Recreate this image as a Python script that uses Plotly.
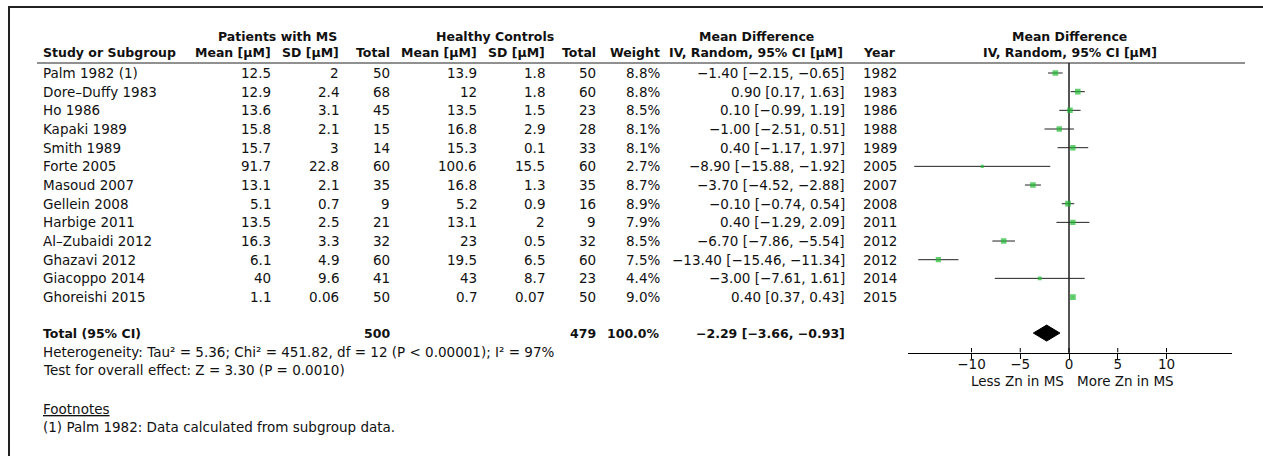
import plotly.graph_objects as go

# ---- study data ----
studies = ["Palm 1982 (1)", "Dore–Duffy 1983", "Ho 1986", "Kapaki 1989", "Smith 1989",
           "Forte 2005", "Masoud 2007", "Gellein 2008", "Harbige 2011", "Al–Zubaidi 2012",
           "Ghazavi 2012", "Giacoppo 2014", "Ghoreishi 2015"]
ms_mean = [12.5, 12.9, 13.6, 15.8, 15.7, 91.7, 13.1, 5.1, 13.5, 16.3, 6.1, 40, 1.1]
ms_sd = [2, 2.4, 3.1, 2.1, 3, 22.8, 2.1, 0.7, 2.5, 3.3, 4.9, 9.6, 0.06]
ms_n = [50, 68, 45, 15, 14, 60, 35, 9, 21, 32, 60, 41, 50]
hc_mean = [13.9, 12, 13.5, 16.8, 15.3, 100.6, 16.8, 5.2, 13.1, 23, 19.5, 43, 0.7]
hc_sd = [1.8, 1.8, 1.5, 2.9, 0.1, 15.5, 1.3, 0.9, 2, 0.5, 6.5, 8.7, 0.07]
hc_n = [50, 60, 23, 28, 33, 60, 35, 16, 9, 32, 60, 23, 50]
weight = [8.8, 8.8, 8.5, 8.1, 8.1, 2.7, 8.7, 8.9, 7.9, 8.5, 7.5, 4.4, 9.0]
md = [-1.40, 0.90, 0.10, -1.00, 0.40, -8.90, -3.70, -0.10, 0.40, -6.70, -13.40, -3.00, 0.40]
ci_lo = [-2.15, 0.17, -0.99, -2.51, -1.17, -15.88, -4.52, -0.74, -1.29, -7.86, -15.46, -7.61, 0.37]
ci_hi = [-0.65, 1.63, 1.19, 0.51, 1.97, -1.92, -2.88, 0.54, 2.09, -5.54, -11.34, 1.61, 0.43]
years = [1982, 1983, 1986, 1988, 1989, 2005, 2007, 2008, 2011, 2012, 2012, 2014, 2015]

# pooled result
total_ms_n = 500
total_hc_n = 479
total_weight = 100.0
total_md = -2.29
total_lo = -3.66
total_hi = -0.93

axis_ticks = [-10, -5, 0, 5, 10]
heterogeneity = "Heterogeneity: Tau² = 5.36; Chi² = 451.82, df = 12 (P < 0.00001); I² = 97%"
overall_test = "Test for overall effect: Z = 3.30 (P = 0.0010)"
footnote = "(1) Palm 1982: Data calculated from subgroup data."
label_left = "Less Zn in MS"
label_right = "More Zn in MS"

# ---- layout geometry ----
W, H = 1263, 456
FONT = "DejaVu Sans"
FS = 13.5
FS_B = 12.5
INK = "#111111"
GREEN = "#22bb33"

ROW0_PX, ROW_H = 73.0, 18.67
PLOT_TOP_PX, PLOT_BOT_PX = 63.0, 352.5
TOTAL_ROW = 13.93


def fx(p):
    return p / W


def fy(p):
    return 1 - p / H


def num(v):
    return f"{v:g}".replace("-", "−")


def fmt2(v):
    return f"{v:.2f}".replace("-", "−")


y_rows = list(range(len(studies)))
fig = go.Figure()

# confidence intervals
ci_x, ci_y = [], []
for lo, hi, r in zip(ci_lo, ci_hi, y_rows):
    ci_x += [lo, hi, None]
    ci_y += [r, r, None]
fig.add_trace(go.Scatter(x=ci_x, y=ci_y, mode="lines",
                         line=dict(color="#222222", width=1), hoverinfo="skip"))

# study point estimates, square area scaled by weight
fig.add_trace(go.Scatter(x=md, y=y_rows, mode="markers",
                         marker=dict(symbol="square", color=GREEN,
                                     size=[1.9 * w ** 0.5 for w in weight],
                                     line=dict(width=0)),
                         hoverinfo="skip"))

# pooled diamond
half_h = 8 / ROW_H
fig.add_trace(go.Scatter(x=[total_lo, total_md, total_hi, total_md, total_lo],
                         y=[TOTAL_ROW, TOTAL_ROW - half_h, TOTAL_ROW, TOTAL_ROW + half_h, TOTAL_ROW],
                         mode="lines", fill="toself", fillcolor="black",
                         line=dict(color="black", width=1), hoverinfo="skip"))

# upper halves of the axis tick marks
tk_x, tk_y = [], []
up = 4.5 / ROW_H
y_axis_row = (PLOT_BOT_PX - ROW0_PX) / ROW_H
for t in axis_ticks:
    tk_x += [t, t, None]
    tk_y += [y_axis_row, y_axis_row - up, None]
fig.add_trace(go.Scatter(x=tk_x, y=tk_y, mode="lines",
                         line=dict(color="black", width=1), hoverinfo="skip"))

ann = []


def text(x_px, y, s, anchor="left", bold=False, yref="y", **kw):
    size = FS
    if bold:
        s = f"<b>{s}</b>"
        size = FS_B
    ann.append(dict(x=fx(x_px), xref="paper", y=y if yref == "y" else fy(y), yref=yref,
                    text=s, showarrow=False, xanchor=anchor, yanchor="middle",
                    font=dict(family=FONT, size=size, color=INK), **kw))


# column headers
text(277, 36, "Patients with MS", "center", True, "paper")
text(495, 36, "Healthy Controls", "center", True, "paper")
text(756, 36, "Mean Difference", "center", True, "paper")
text(1069, 36, "Mean Difference", "center", True, "paper")
hdr2 = [(41, "Study or Subgroup", "left"), (273, "Mean [μM]", "right"), (341, "SD [μM]", "right"),
        (392, "Total", "right"), (479, "Mean [μM]", "right"), (547, "SD [μM]", "right"),
        (598, "Total", "right"), (662, "Weight", "right"), (756, "IV, Random, 95% CI [μM]", "center"),
        (861, "Year", "left"), (1070, "IV, Random, 95% CI [μM]", "center")]
for x, s, a in hdr2:
    text(x, 53, s, a, True, "paper")

# study rows
for i in y_rows:
    text(41, i, studies[i])
    text(273, i, num(ms_mean[i]), "right")
    text(341, i, num(ms_sd[i]), "right")
    text(392, i, str(ms_n[i]), "right")
    text(479, i, num(hc_mean[i]), "right")
    text(547, i, num(hc_sd[i]), "right")
    text(598, i, str(hc_n[i]), "right")
    text(662, i, f"{weight[i]:.1f}%", "right")
    text(847, i, f"{fmt2(md[i])} [{fmt2(ci_lo[i])}, {fmt2(ci_hi[i])}]", "right")
    text(861, i, str(years[i]))

# total row
text(41, TOTAL_ROW, "Total (95% CI)", bold=True)
text(392, TOTAL_ROW, str(total_ms_n), "right", True)
text(598, TOTAL_ROW, str(total_hc_n), "right", True)
text(662, TOTAL_ROW, f"{total_weight:.1f}%", "right", True)
text(847, TOTAL_ROW, f"{fmt2(total_md)} [{fmt2(total_lo)}, {fmt2(total_hi)}]", "right", True)

# statistics and footnotes
text(41, 352, heterogeneity, yref="paper")
text(41, 370, overall_test, yref="paper")
text(41, 409, "<u>Footnotes</u>", yref="paper")
text(41, 427, footnote, yref="paper")

# direction labels under the axis
for s, a, sh in [(label_left, "right", -3), (label_right, "left", 6)]:
    ann.append(dict(x=0, xref="x", y=fy(381), yref="paper", text=s, showarrow=False,
                    xanchor=a, yanchor="middle", xshift=sh,
                    font=dict(family=FONT, size=FS, color=INK)))

# forest axis: 0 at 1069 px, 9.75 px per unit
AX_L, AX_R, X0, PPU = 908, 1232, 1069, 9.75
x_range = [(AX_L - X0) / PPU, (AX_R - X0) / PPU]

shapes = [
    # frame (top and left)
    dict(type="line", xref="paper", yref="paper", x0=fx(8), x1=1.0, y0=fy(7), y1=fy(7),
         line=dict(color="#222222", width=2)),
    dict(type="line", xref="paper", yref="paper", x0=fx(9), x1=fx(9), y0=fy(6), y1=0,
         line=dict(color="#222222", width=2)),
    # header rule
    dict(type="line", xref="paper", yref="paper", x0=fx(37), x1=fx(1245), y0=fy(63), y1=fy(63),
         line=dict(color="#222222", width=1)),
]

fig.update_layout(
    width=W, height=H, margin=dict(l=0, r=0, t=0, b=0),
    paper_bgcolor="white", plot_bgcolor="white", showlegend=False,
    annotations=ann, shapes=shapes,
    xaxis=dict(domain=[fx(AX_L), fx(AX_R)], range=x_range, showgrid=False,
               zeroline=True, zerolinecolor="#555555", zerolinewidth=1.5,
               showline=True, linecolor="black", linewidth=1,
               ticks="outside", ticklen=5, tickcolor="black", tickwidth=1,
               tickvals=axis_ticks, tickfont=dict(family=FONT, size=FS, color=INK),
               ticklabelstandoff=-6, fixedrange=True),
    yaxis=dict(domain=[fy(PLOT_BOT_PX), fy(PLOT_TOP_PX)],
               range=[(PLOT_BOT_PX - ROW0_PX) / ROW_H, (PLOT_TOP_PX - ROW0_PX) / ROW_H],
               visible=False, fixedrange=True),
)

fig.write_html("out.html")
